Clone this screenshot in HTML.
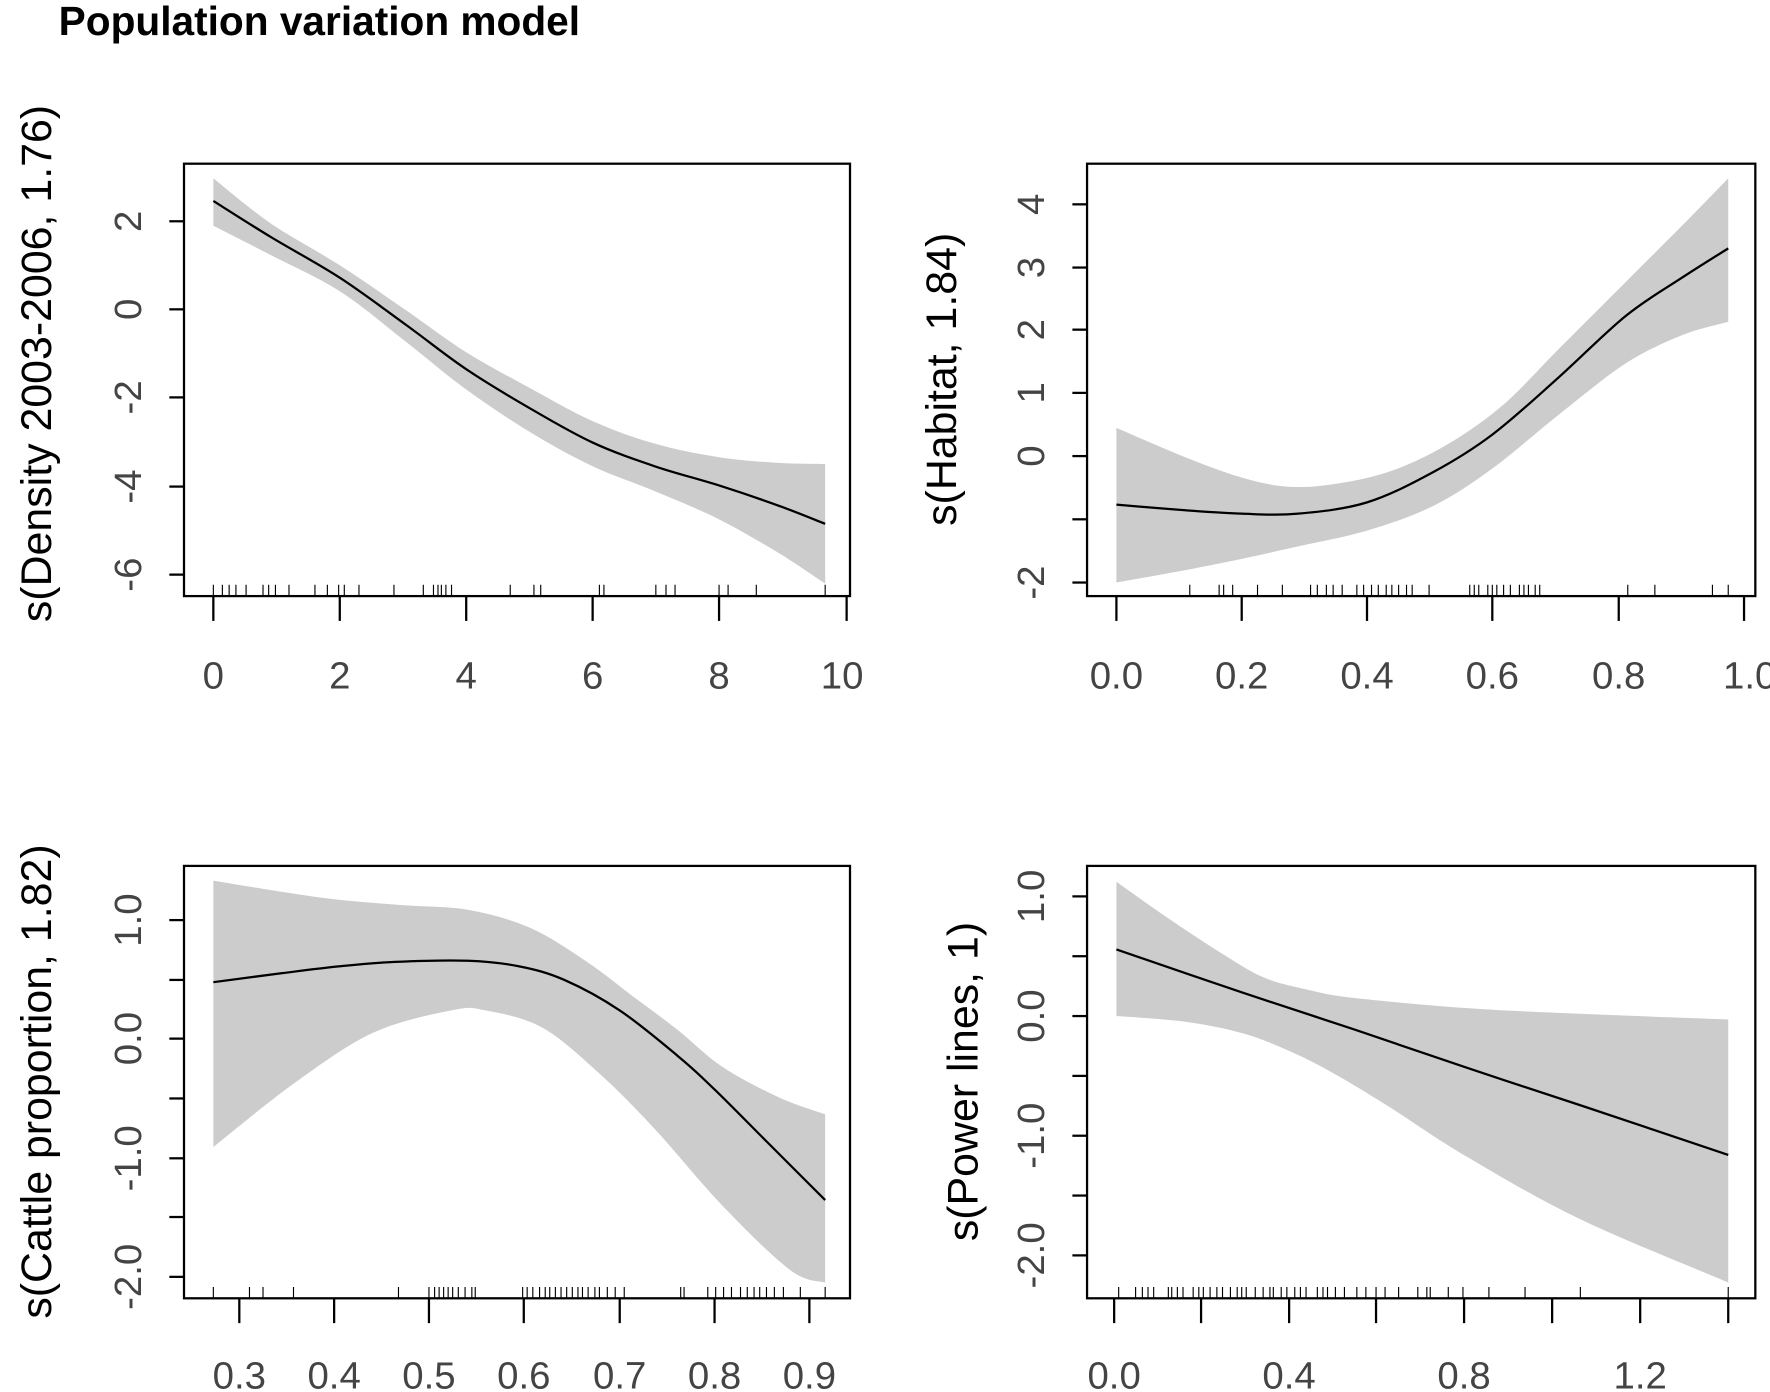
<!DOCTYPE html>
<html><head><meta charset="utf-8"><style>html,body{margin:0;padding:0;background:#fff}svg{display:block}</style></head><body>
<svg id="s" width="1770" height="1392" viewBox="0 0 1568 1233" preserveAspectRatio="none" xmlns="http://www.w3.org/2000/svg" font-family="Liberation Sans, Arial, sans-serif">
<rect width="1568" height="1233" fill="#fff"/>
<text x="52" y="31" font-size="36" font-weight="bold">Population variation model</text>

<path id="b1" fill="#cccccc"/><path id="l1" fill="none" stroke="#000" stroke-width="2"/>
<path id="b2" fill="#cccccc"/><path id="l2" fill="none" stroke="#000" stroke-width="2"/>
<path id="b3" fill="#cccccc"/><path id="l3" fill="none" stroke="#000" stroke-width="2"/>
<path id="b4" fill="#cccccc"/><path id="l4" fill="none" stroke="#000" stroke-width="2"/>

<!-- Plot 1 -->
<rect x="163" y="145" width="590" height="383" fill="none" stroke="#000" stroke-width="2"/>
<g stroke="#000" stroke-width="2">
<line x1="189" y1="528" x2="189" y2="550"/><line x1="301" y1="528" x2="301" y2="550"/><line x1="413" y1="528" x2="413" y2="550"/><line x1="525" y1="528" x2="525" y2="550"/><line x1="637" y1="528" x2="637" y2="550"/><line x1="750" y1="528" x2="750" y2="550"/>
<line x1="150" y1="196" x2="163" y2="196"/><line x1="150" y1="274" x2="163" y2="274"/><line x1="150" y1="352" x2="163" y2="352"/><line x1="150" y1="431" x2="163" y2="431"/><line x1="150" y1="509" x2="163" y2="509"/>
</g>
<g fill="#444" font-size="34" text-anchor="middle">
<text x="189" y="610">0</text><text x="301" y="610">2</text><text x="413" y="610">4</text><text x="525" y="610">6</text><text x="637" y="610">8</text><text x="746" y="610">10</text>
<text transform="translate(125,196) rotate(-90)">2</text><text transform="translate(125,274) rotate(-90)">0</text><text transform="translate(125,352) rotate(-90)">-2</text><text transform="translate(125,431) rotate(-90)">-4</text><text transform="translate(125,509) rotate(-90)">-6</text>
</g>
<text transform="translate(45,322) rotate(-90)" font-size="38" text-anchor="middle">s(Density 2003-2006, 1.76)</text>
<path stroke="#000" stroke-width="1" d="M189,518v10M197,518v10M203,518v10M209,518v10M218,518v10M233,518v10M238,518v10M244,518v10M256,518v10M279,518v10M290,518v10M300,518v10M305,518v10M318,518v10M349,518v10M375,518v10M384,518v10M388,518v10M391,518v10M395,518v10M400,518v10M452,518v10M473,518v10M479,518v10M531,518v10M535,518v10M581,518v10M590,518v10M598,518v10M637,518v10M645,518v10M670,518v10M731,518v10"/>

<!-- Plot 2 -->
<rect x="963" y="145" width="592" height="383" fill="none" stroke="#000" stroke-width="2"/>
<g stroke="#000" stroke-width="2">
<line x1="989" y1="528" x2="989" y2="550"/><line x1="1100" y1="528" x2="1100" y2="550"/><line x1="1211" y1="528" x2="1211" y2="550"/><line x1="1322" y1="528" x2="1322" y2="550"/><line x1="1434" y1="528" x2="1434" y2="550"/><line x1="1545" y1="528" x2="1545" y2="550"/>
<line x1="950" y1="181" x2="963" y2="181"/><line x1="950" y1="237" x2="963" y2="237"/><line x1="950" y1="292" x2="963" y2="292"/><line x1="950" y1="348" x2="963" y2="348"/><line x1="950" y1="404" x2="963" y2="404"/><line x1="950" y1="460" x2="963" y2="460"/><line x1="950" y1="516" x2="963" y2="516"/>
</g>
<g fill="#444" font-size="34" text-anchor="middle">
<text x="989" y="610">0.0</text><text x="1100" y="610">0.2</text><text x="1211" y="610">0.4</text><text x="1322" y="610">0.6</text><text x="1434" y="610">0.8</text><text x="1550" y="610">1.0</text>
<text transform="translate(925,181) rotate(-90)">4</text><text transform="translate(925,237) rotate(-90)">3</text><text transform="translate(925,292) rotate(-90)">2</text><text transform="translate(925,348) rotate(-90)">1</text><text transform="translate(925,404) rotate(-90)">0</text><text transform="translate(925,516) rotate(-90)">-2</text>
</g>
<text transform="translate(847,336) rotate(-90)" font-size="38" text-anchor="middle">s(Habitat, 1.84)</text>
<path stroke="#000" stroke-width="1" d="M1054,518v10M1080,518v10M1084,518v10M1092,518v10M1114,518v10M1136,518v10M1161,518v10M1167,518v10M1175,518v10M1181,518v10M1189,518v10M1202,518v10M1208,518v10M1215,518v10M1221,518v10M1228,518v10M1233,518v10M1239,518v10M1246,518v10M1251,518v10M1266,518v10M1302,518v10M1306,518v10M1310,518v10M1318,518v10M1322,518v10M1326,518v10M1332,518v10M1338,518v10M1346,518v10M1350,518v10M1354,518v10M1360,518v10M1364,518v10M1442,518v10M1466,518v10M1517,518v10M1531,518v10"/>

<!-- Plot 3 -->
<rect x="163" y="767" width="590" height="383" fill="none" stroke="#000" stroke-width="2"/>
<g stroke="#000" stroke-width="2">
<line x1="212" y1="1150" x2="212" y2="1172"/><line x1="296" y1="1150" x2="296" y2="1172"/><line x1="380" y1="1150" x2="380" y2="1172"/><line x1="464" y1="1150" x2="464" y2="1172"/><line x1="549" y1="1150" x2="549" y2="1172"/><line x1="633" y1="1150" x2="633" y2="1172"/><line x1="717" y1="1150" x2="717" y2="1172"/>
<line x1="150" y1="815" x2="163" y2="815"/><line x1="150" y1="868" x2="163" y2="868"/><line x1="150" y1="920" x2="163" y2="920"/><line x1="150" y1="973" x2="163" y2="973"/><line x1="150" y1="1026" x2="163" y2="1026"/><line x1="150" y1="1078" x2="163" y2="1078"/><line x1="150" y1="1131" x2="163" y2="1131"/>
</g>
<g fill="#444" font-size="34" text-anchor="middle">
<text x="212" y="1230">0.3</text><text x="296" y="1230">0.4</text><text x="380" y="1230">0.5</text><text x="464" y="1230">0.6</text><text x="549" y="1230">0.7</text><text x="633" y="1230">0.8</text><text x="717" y="1230">0.9</text>
<text transform="translate(125,815) rotate(-90)">1.0</text><text transform="translate(125,920) rotate(-90)">0.0</text><text transform="translate(125,1026) rotate(-90)">-1.0</text><text transform="translate(125,1131) rotate(-90)">-2.0</text>
</g>
<text transform="translate(45,958) rotate(-90)" font-size="38" text-anchor="middle">s(Cattle proportion, 1.82)</text>
<path stroke="#000" stroke-width="1" d="M189,1140v10M221,1140v10M233,1140v10M260,1140v10M353,1140v10M380,1140v10M385,1140v10M389,1140v10M393,1140v10M397,1140v10M401,1140v10M406,1140v10M412,1140v10M418,1140v10M421,1140v10M463,1140v10M467,1140v10M472,1140v10M478,1140v10M483,1140v10M487,1140v10M492,1140v10M497,1140v10M502,1140v10M507,1140v10M512,1140v10M516,1140v10M521,1140v10M527,1140v10M531,1140v10M538,1140v10M545,1140v10M553,1140v10M603,1140v10M606,1140v10M627,1140v10M634,1140v10M641,1140v10M648,1140v10M656,1140v10M662,1140v10M668,1140v10M673,1140v10M679,1140v10M686,1140v10M694,1140v10M709,1140v10M731,1140v10"/>

<!-- Plot 4 -->
<rect x="963" y="767" width="592" height="383" fill="none" stroke="#000" stroke-width="2"/>
<g stroke="#000" stroke-width="2">
<line x1="987" y1="1150" x2="987" y2="1172"/><line x1="1064" y1="1150" x2="1064" y2="1172"/><line x1="1142" y1="1150" x2="1142" y2="1172"/><line x1="1219" y1="1150" x2="1219" y2="1172"/><line x1="1297" y1="1150" x2="1297" y2="1172"/><line x1="1375" y1="1150" x2="1375" y2="1172"/><line x1="1453" y1="1150" x2="1453" y2="1172"/><line x1="1531" y1="1150" x2="1531" y2="1172"/>
<line x1="950" y1="794" x2="963" y2="794"/><line x1="950" y1="847" x2="963" y2="847"/><line x1="950" y1="900" x2="963" y2="900"/><line x1="950" y1="953" x2="963" y2="953"/><line x1="950" y1="1006" x2="963" y2="1006"/><line x1="950" y1="1059" x2="963" y2="1059"/><line x1="950" y1="1112" x2="963" y2="1112"/>
</g>
<g fill="#444" font-size="34" text-anchor="middle">
<text x="987" y="1230">0.0</text><text x="1142" y="1230">0.4</text><text x="1297" y="1230">0.8</text><text x="1453" y="1230">1.2</text>
<text transform="translate(925,794) rotate(-90)">1.0</text><text transform="translate(925,900) rotate(-90)">0.0</text><text transform="translate(925,1006) rotate(-90)">-1.0</text><text transform="translate(925,1112) rotate(-90)">-2.0</text>
</g>
<text transform="translate(866,958) rotate(-90)" font-size="38" text-anchor="middle">s(Power lines, 1)</text>
<path stroke="#000" stroke-width="1" d="M991,1140v10M1006,1140v10M1012,1140v10M1017,1140v10M1022,1140v10M1035,1140v10M1038,1140v10M1043,1140v10M1048,1140v10M1057,1140v10M1062,1140v10M1066,1140v10M1072,1140v10M1078,1140v10M1083,1140v10M1090,1140v10M1096,1140v10M1100,1140v10M1104,1140v10M1112,1140v10M1119,1140v10M1125,1140v10M1128,1140v10M1135,1140v10M1140,1140v10M1147,1140v10M1152,1140v10M1157,1140v10M1167,1140v10M1172,1140v10M1176,1140v10M1183,1140v10M1191,1140v10M1202,1140v10M1210,1140v10M1219,1140v10M1227,1140v10M1239,1140v10M1256,1140v10M1264,1140v10M1267,1140v10M1283,1140v10M1296,1140v10M1319,1140v10M1351,1140v10M1400,1140v10M1531,1140v10"/>
</svg>
<script>
function cr(p){var d="";for(var i=0;i<p.length-1;i++){var p0=p[i-1]||p[i],p1=p[i],p2=p[i+1],p3=p[i+2]||p2;
if(i==0)d+="M"+p1[0]+","+p1[1];
d+="C"+(p1[0]+(p2[0]-p0[0])/6)+","+(p1[1]+(p2[1]-p0[1])/6)+" "+(p2[0]-(p3[0]-p1[0])/6)+","+(p2[1]-(p3[1]-p1[1])/6)+" "+p2[0]+","+p2[1];}return d;}
function band(id,up,lo){var l=lo.slice().reverse();var d=cr(up);var d2=cr(l).replace(/^M/,"L");document.getElementById(id).setAttribute("d",d+d2+"Z");}
function line(id,p){document.getElementById(id).setAttribute("d",cr(p));}
band("b1",[[189,158],[240,198],[301,235],[360,275],[413,312],[470,344],[525,373],[580,393],[637,405],[690,410],[731,411]],
 [[189,200],[240,226],[301,258],[360,303],[413,345],[470,383],[525,413],[580,435],[637,460],[690,490],[731,517]]);
line("l1",[[189,178],[240,210],[301,246],[360,288],[413,327],[470,362],[525,392],[580,413],[637,430],[690,448],[731,464]]);
band("b2",[[989,379],[1050,405],[1100,423],[1140,431],[1180,429],[1230,418],[1280,395],[1330,360],[1380,310],[1440,250],[1490,200],[1531,158]],
 [[989,516],[1050,505],[1100,495],[1150,484],[1211,470],[1270,448],[1322,415],[1380,368],[1440,322],[1490,297],[1531,285]]);
line("l2",[[989,447],[1050,452],[1100,455],[1150,455],[1211,445],[1270,418],[1322,385],[1380,335],[1440,280],[1490,246],[1531,220]]);
band("b3",[[189,780],[250,790],[300,797],[360,802],[415,806],[470,822],[520,852],[560,882],[600,912],[640,945],[690,972],[731,987]],
 [[189,1016],[260,960],[330,915],[400,895],[430,895],[480,910],[530,950],[580,1000],[640,1068],[700,1125],[731,1136]]);
line("l3",[[189,870],[250,862],[300,856],[350,852],[415,851],[460,856],[500,868],[549,895],[600,935],[633,965],[680,1012],[731,1063]]);
band("b4",[[989,781],[1030,810],[1080,843],[1120,866],[1160,877],[1200,884],[1300,893],[1400,898],[1531,903]],
 [[989,900],[1050,905],[1100,915],[1140,930],[1180,950],[1230,980],[1300,1025],[1400,1080],[1531,1136]]);
line("l4",[[989,841],[1100,879],[1200,912],[1300,946],[1400,979],[1531,1023]]);
</script>
</body></html>
